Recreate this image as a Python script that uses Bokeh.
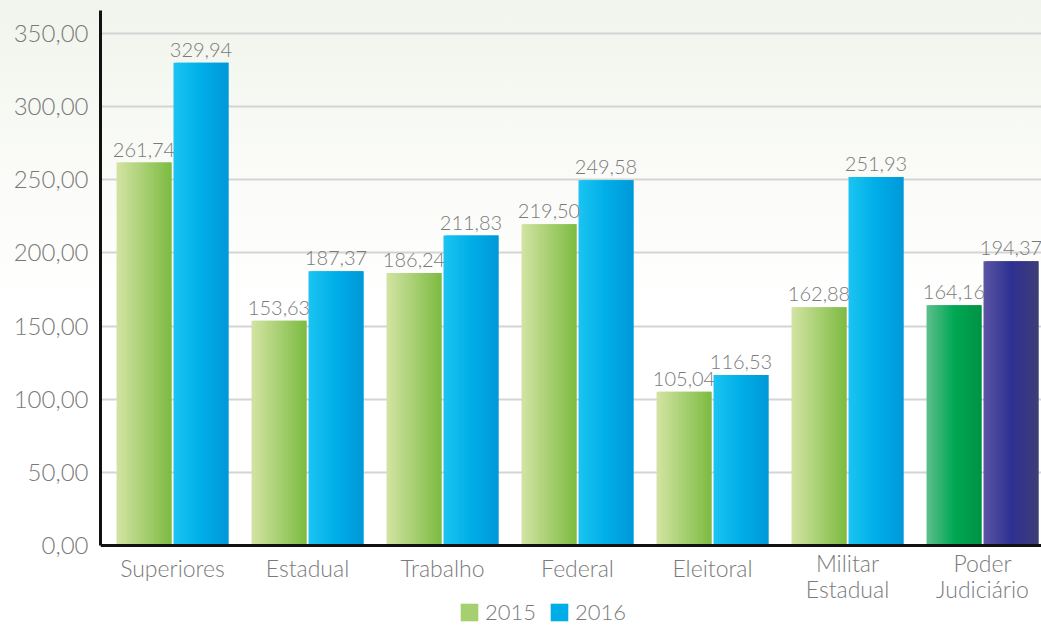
from bokeh.plotting import figure
from bokeh.models import (Range1d, FixedTicker, ColumnDataSource, Legend, LegendItem, Span)
from bokeh.embed import file_html
from bokeh.resources import INLINE
from bokeh.core.properties import value

# ---- data ----
categories = ["Superiores", "Estadual", "Trabalho", "Federal", "Eleitoral",
              "Militar\nEstadual", "Poder\nJudiciário"]
series_2015 = [261.74, 153.63, 186.24, 219.50, 105.04, 162.88, 164.16]
series_2016 = [329.94, 187.37, 211.83, 249.58, 116.53, 251.93, 194.37]
y_ticks = [0, 50, 100, 150, 200, 250, 300, 350]
y_tick_labels = ["0,00", "50,00", "100,00", "150,00", "200,00", "250,00", "300,00", "350,00"]

# ---- style ----
FONT = "Lato Light"
GREY = "#7a7a7a"
grad_green = [(211, 228, 163), (124, 187, 66)]
grad_blue = [(27, 196, 241), (0, 174, 232), (0, 152, 216)]
grad_pgreen = [(95, 190, 140), (0, 168, 84), (0, 146, 69)]
grad_purple = [(92, 85, 165), (46, 49, 146), (62, 60, 120)]
styles_2015 = [grad_green] * 6 + [grad_pgreen]
styles_2016 = [grad_blue] * 6 + [grad_purple]

BAR_W = 0.407
OFFSET = 0.211
N_STRIPS = 24
Y_TOP = 365.7
Y_BOTTOM = -55.4   # leaves room under the baseline for category labels and legend


def interp(stops, t):
    n = len(stops) - 1
    pos = t * n
    i = min(int(pos), n - 1)
    f = pos - i
    a, b = stops[i], stops[i + 1]
    c = tuple(int(round(a[j] + (b[j] - a[j]) * f)) for j in range(3))
    return "#%02x%02x%02x" % c


p = figure(width=1041, height=626, output_backend="svg", toolbar_location=None,
           x_range=Range1d(1 - 72 / 135, 7 + 59 / 135), y_range=Range1d(Y_BOTTOM, Y_TOP),
           x_axis_type=None,
           min_border_left=100, min_border_right=0, min_border_top=10, min_border_bottom=0)
p.border_fill_color = None
p.background_fill_color = None
p.outline_line_color = None
p.styles = {"background": "linear-gradient(180deg, #f1f4ec 0%, #fbfcf9 30%, #ffffff 50%)"}

# grid
p.xgrid.grid_line_color = None
p.ygrid.ticker = FixedTicker(ticks=y_ticks)
p.ygrid.grid_line_color = "#d4d4d4"
p.ygrid.grid_line_width = 2


def strips(series, styles, off):
    lefts, rights, tops, colors = [], [], [], []
    sw = BAR_W / N_STRIPS
    for i, v in enumerate(series):
        bl = i + 1 + off - BAR_W / 2
        br = bl + BAR_W
        for k in range(N_STRIPS):
            t = (k + 0.5) / N_STRIPS
            lefts.append(bl + k * sw)
            rights.append(min(bl + (k + 2) * sw, br))
            tops.append(v)
            colors.append(interp(styles[i], t))
    return ColumnDataSource(dict(left=lefts, right=rights, top=tops, color=colors))


r15 = p.quad(left="left", right="right", top="top", bottom=0,
             source=strips(series_2015, styles_2015, -OFFSET), fill_color="color", line_color=None)
r16 = p.quad(left="left", right="right", top="top", bottom=0,
             source=strips(series_2016, styles_2016, OFFSET), fill_color="color", line_color=None)

# baseline (x axis line)
p.add_layout(Span(location=0, dimension="width", line_color="#111111", line_width=3))

# value labels
lab_x = [i + 1 - OFFSET for i in range(7)] + [i + 1 + OFFSET for i in range(7)]
lab_y = series_2015 + series_2016
lab_t = [f"{v:.2f}".replace(".", ",") for v in lab_y]
p.text(x=lab_x, y=lab_y, text=lab_t, y_offset=-6, text_align="center", text_baseline="bottom",
       text_font=value(FONT), text_font_size="20px", text_color=GREY)

# category labels
cat_src = ColumnDataSource(dict(
    x=list(range(1, 8)), y=[0] * 7, text=categories,
    yoff=[4 if "\n" in c else 9 for c in categories]))
p.text(x="x", y="y", text="text", y_offset="yoff", source=cat_src,
       text_align="center", text_baseline="top", text_line_height=0.9,
       text_font=value(FONT), text_font_size="23px", text_color=GREY)

# y axis
yax = p.yaxis[0]
yax.ticker = FixedTicker(ticks=y_ticks)
yax.major_label_overrides = {t: l for t, l in zip(y_ticks, y_tick_labels)}
yax.bounds = (0, Y_TOP)
yax.axis_line_color = "#111111"
yax.axis_line_width = 3
yax.major_tick_line_color = None
yax.minor_tick_line_color = None
yax.major_tick_out = 0
yax.major_label_text_font = FONT
yax.major_label_text_color = GREY
yax.major_label_text_font_size = "24px"
yax.major_label_standoff = 12

# legend
legend = Legend(items=[LegendItem(label="2015", renderers=[r15], index=N_STRIPS // 2),
                       LegendItem(label="2016", renderers=[r16], index=N_STRIPS // 2)],
                orientation="horizontal", location=(358, 1),
                glyph_width=22, glyph_height=22, label_standoff=5, spacing=12,
                padding=0, margin=0, border_line_color=None, background_fill_alpha=0,
                label_text_font=FONT, label_text_font_size="22px", label_text_color=GREY)
p.add_layout(legend)

open("out.html", "w").write(file_html(p, INLINE))
